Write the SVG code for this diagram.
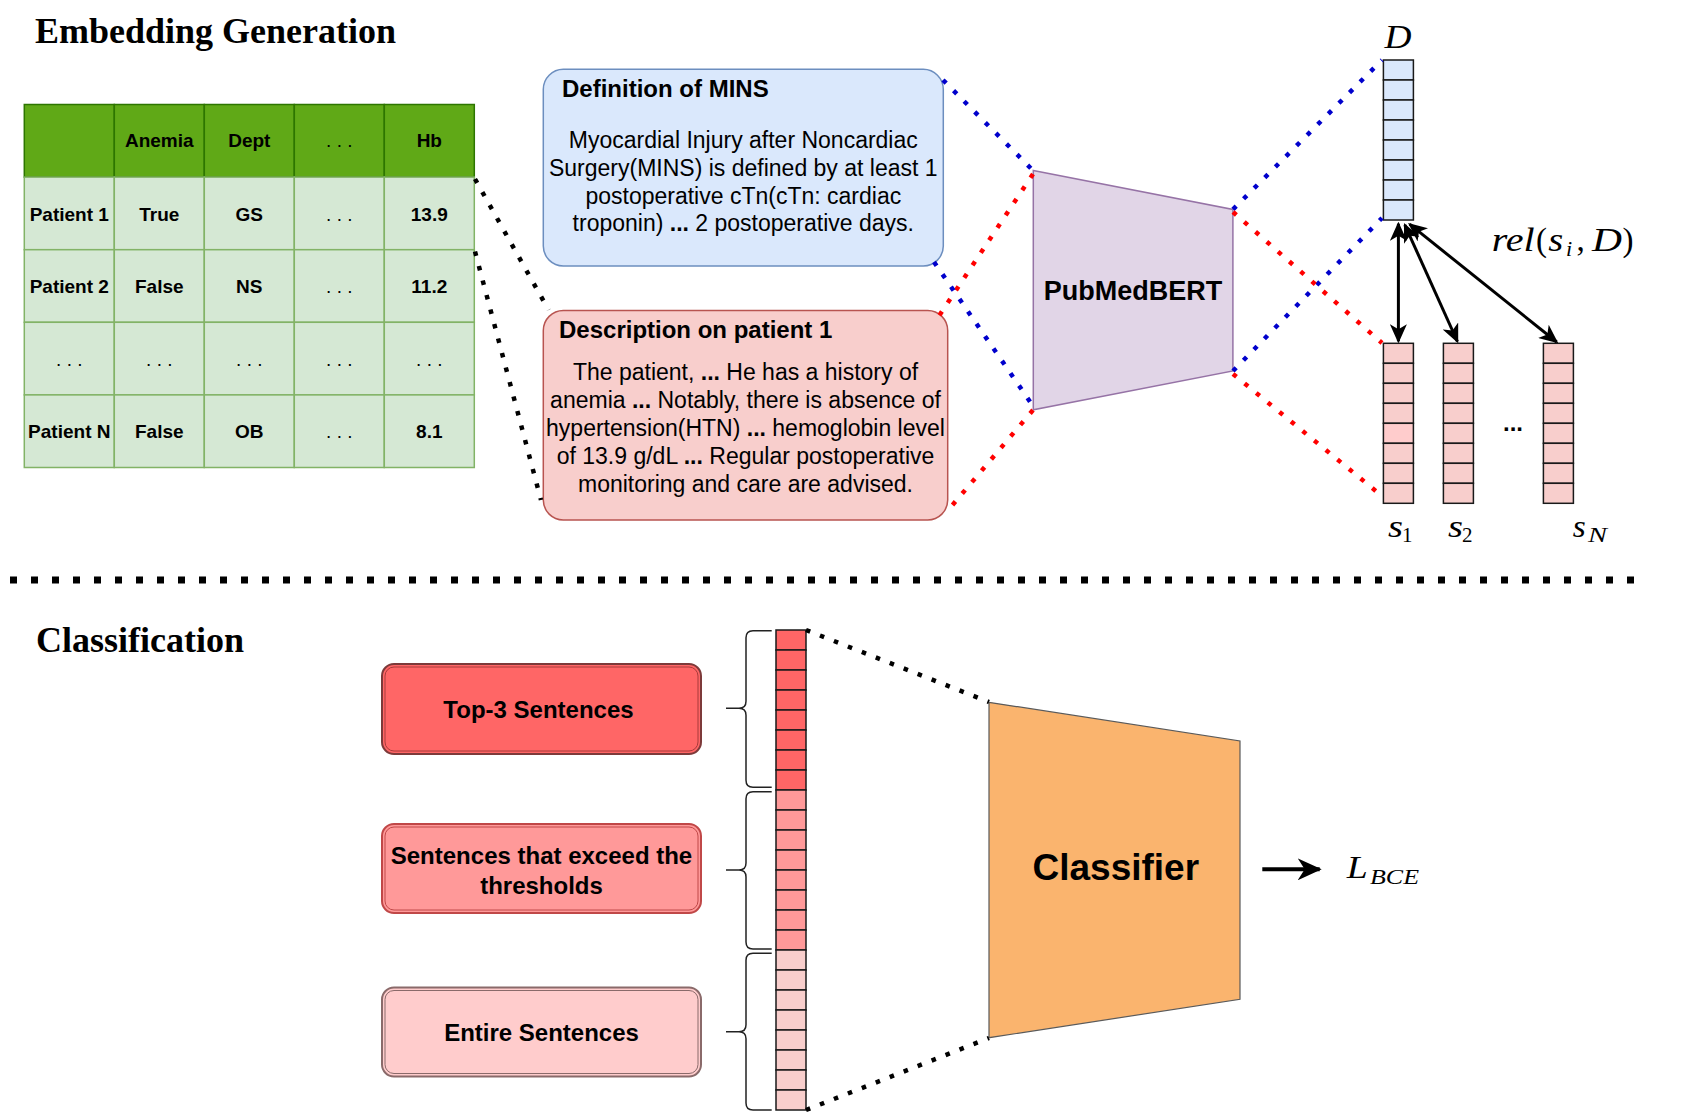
<svg xmlns="http://www.w3.org/2000/svg" width="1689" height="1115" viewBox="0 0 1689 1115">
<style>
.title{font-family:"Liberation Serif","Times New Roman",serif;font-weight:bold;font-size:36px;fill:#000}
.sans{font-family:"Liberation Sans",Arial,Helvetica,sans-serif;fill:#000}
.tb{font-family:"Liberation Sans",Arial,Helvetica,sans-serif;font-size:19px;font-weight:bold;text-anchor:middle;fill:#000}
.td{font-family:"Liberation Sans",Arial,Helvetica,sans-serif;font-size:19px;text-anchor:middle;fill:#000}
.hd{fill:#60a917;stroke:#2d7600;stroke-width:1.5}
.bd{fill:#d5e8d4;stroke:#82b366;stroke-width:1.5}
.body{font-family:"Liberation Sans",Arial,Helvetica,sans-serif;font-size:23px;text-anchor:middle;fill:#000}
.b{font-weight:bold}
.m{font-family:"Liberation Serif","Times New Roman",serif;font-style:italic;fill:#000}
.up{font-style:normal}
.vd{fill:#dae8fc;stroke:#1a1a1a;stroke-width:1.5}
.vs{fill:#f8cecc;stroke:#1a1a1a;stroke-width:1.5}
.dotk{fill:none;stroke:#000;stroke-width:4.5;stroke-dasharray:4.5 10.5}
.dotb{fill:none;stroke:#0000cc;stroke-width:4.5;stroke-dasharray:4.5 10.5}
.dotr{fill:none;stroke:#ff0000;stroke-width:4.5;stroke-dasharray:4.5 10.5}
.sep{fill:none;stroke:#000;stroke-width:7;stroke-dasharray:7 14}
.arr{fill:none;stroke:#000;stroke-width:3;marker-start:url(#ah);marker-end:url(#ah)}
.brace{fill:none;stroke:#222;stroke-width:1.5}
.lbl{font-family:"Liberation Sans",Arial,Helvetica,sans-serif;font-size:24px;font-weight:bold;text-anchor:middle;fill:#000}
</style>
<defs>
<marker id="ah" markerUnits="userSpaceOnUse" viewBox="0 0 19 17" markerWidth="19" markerHeight="17" refX="17" refY="8.5" orient="auto-start-reverse"><path d="M0,0 L19,8.5 L0,17 L5,8.5 Z" fill="#000"/></marker>
<marker id="ah2" markerUnits="userSpaceOnUse" viewBox="0 0 24 22" markerWidth="24" markerHeight="22" refX="22" refY="11" orient="auto"><path d="M0,0 L24,11 L0,22 L7,11 Z" fill="#000"/></marker>
</defs>
<rect width="1689" height="1115" fill="#fff"/>

<text class="title" x="35" y="43">Embedding Generation</text>
<text class="title" x="36" y="652">Classification</text>

<g id="table">
<rect class="hd" x="24.3" y="104.5" width="90" height="72.6"/>
<rect class="hd" x="114.3" y="104.5" width="90" height="72.6"/>
<rect class="hd" x="204.3" y="104.5" width="90" height="72.6"/>
<rect class="hd" x="294.3" y="104.5" width="90" height="72.6"/>
<rect class="hd" x="384.3" y="104.5" width="90" height="72.6"/>
<g class="bd">
<rect x="24.3" y="177.1" width="90" height="72.6"/><rect x="114.3" y="177.1" width="90" height="72.6"/><rect x="204.3" y="177.1" width="90" height="72.6"/><rect x="294.3" y="177.1" width="90" height="72.6"/><rect x="384.3" y="177.1" width="90" height="72.6"/>
<rect x="24.3" y="249.7" width="90" height="72.6"/><rect x="114.3" y="249.7" width="90" height="72.6"/><rect x="204.3" y="249.7" width="90" height="72.6"/><rect x="294.3" y="249.7" width="90" height="72.6"/><rect x="384.3" y="249.7" width="90" height="72.6"/>
<rect x="24.3" y="322.3" width="90" height="72.6"/><rect x="114.3" y="322.3" width="90" height="72.6"/><rect x="204.3" y="322.3" width="90" height="72.6"/><rect x="294.3" y="322.3" width="90" height="72.6"/><rect x="384.3" y="322.3" width="90" height="72.6"/>
<rect x="24.3" y="394.9" width="90" height="72.6"/><rect x="114.3" y="394.9" width="90" height="72.6"/><rect x="204.3" y="394.9" width="90" height="72.6"/><rect x="294.3" y="394.9" width="90" height="72.6"/><rect x="384.3" y="394.9" width="90" height="72.6"/>
</g>
<text class="tb" x="159.3" y="147">Anemia</text>
<text class="tb" x="249.3" y="147">Dept</text>
<text class="td" x="339.3" y="147">. . .</text>
<text class="tb" x="429.3" y="147">Hb</text>
<text class="tb" x="69.3" y="220.5">Patient 1</text>
<text class="tb" x="159.3" y="220.5">True</text>
<text class="tb" x="249.3" y="220.5">GS</text>
<text class="td" x="339.3" y="220.5">. . .</text>
<text class="tb" x="429.3" y="220.5">13.9</text>
<text class="tb" x="69.3" y="293">Patient 2</text>
<text class="tb" x="159.3" y="293">False</text>
<text class="tb" x="249.3" y="293">NS</text>
<text class="td" x="339.3" y="293">. . .</text>
<text class="tb" x="429.3" y="293">11.2</text>
<text class="td" x="69.3" y="365.6">. . .</text>
<text class="td" x="159.3" y="365.6">. . .</text>
<text class="td" x="249.3" y="365.6">. . .</text>
<text class="td" x="339.3" y="365.6">. . .</text>
<text class="td" x="429.3" y="365.6">. . .</text>
<text class="tb" x="69.3" y="438.2">Patient N</text>
<text class="tb" x="159.3" y="438.2">False</text>
<text class="tb" x="249.3" y="438.2">OB</text>
<text class="td" x="339.3" y="438.2">. . .</text>
<text class="tb" x="429.3" y="438.2">8.1</text>
</g>

<g id="definition">
<rect x="543.3" y="69.3" width="400" height="196.7" rx="20" fill="#dae8fc" stroke="#6c8ebf" stroke-width="1.5"/>
<text class="sans b" x="562" y="96.7" font-size="24">Definition of MINS</text>
<text class="body" x="743.3" y="148.3">Myocardial Injury after Noncardiac</text>
<text class="body" x="743.3" y="175.9">Surgery(MINS) is defined by at least 1</text>
<text class="body" x="743.3" y="203.5">postoperative cTn(cTn: cardiac</text>
<text class="body" x="743.3" y="231.1">troponin) <tspan class="b">...</tspan> 2 postoperative days.</text>
</g>

<g id="description">
<rect x="543.3" y="310.5" width="404.4" height="209.5" rx="20" fill="#f8cecc" stroke="#b85450" stroke-width="1.5"/>
<text class="sans b" x="559" y="338.3" font-size="24">Description on patient 1</text>
<text class="body" x="745.5" y="380">The patient, <tspan class="b">...</tspan> He has a history of</text>
<text class="body" x="745.5" y="408">anemia <tspan class="b">...</tspan> Notably, there is absence of</text>
<text class="body" x="745.5" y="436">hypertension(HTN) <tspan class="b">...</tspan> hemoglobin level</text>
<text class="body" x="745.5" y="464">of 13.9 g/dL <tspan class="b">...</tspan> Regular postoperative</text>
<text class="body" x="745.5" y="492">monitoring and care are advised.</text>
</g>

<g id="pubmedbert">
<polygon points="1033.3,170.5 1232.9,209.4 1232.9,370.9 1033.3,409.8" fill="#e1d5e7" stroke="#9673a6" stroke-width="1.5"/>
<text class="sans b" x="1133" y="299.6" font-size="27" text-anchor="middle">PubMedBERT</text>
</g>

<g id="vector-D">
<rect class="vd" x="1383.4" y="60" width="30" height="20"/>
<rect class="vd" x="1383.4" y="80" width="30" height="20"/>
<rect class="vd" x="1383.4" y="100" width="30" height="20"/>
<rect class="vd" x="1383.4" y="120" width="30" height="20"/>
<rect class="vd" x="1383.4" y="140" width="30" height="20"/>
<rect class="vd" x="1383.4" y="160" width="30" height="20"/>
<rect class="vd" x="1383.4" y="180" width="30" height="20"/>
<rect class="vd" x="1383.4" y="200" width="30" height="20"/>
<text class="m" x="1384.5" y="48" font-size="33" textLength="27" lengthAdjust="spacingAndGlyphs">D</text>
</g>

<g id="vector-s1">
<rect class="vs" x="1383.4" y="343.3" width="30" height="20"/>
<rect class="vs" x="1383.4" y="363.3" width="30" height="20"/>
<rect class="vs" x="1383.4" y="383.3" width="30" height="20"/>
<rect class="vs" x="1383.4" y="403.3" width="30" height="20"/>
<rect class="vs" x="1383.4" y="423.3" width="30" height="20" style="fill:#ffcccc"/>
<rect class="vs" x="1383.4" y="443.3" width="30" height="20"/>
<rect class="vs" x="1383.4" y="463.3" width="30" height="20"/>
<rect class="vs" x="1383.4" y="483.3" width="30" height="20"/>
<text class="m" x="1388" y="536.7" font-size="31" textLength="15" lengthAdjust="spacingAndGlyphs">s</text>
<text class="m up" x="1402" y="542" font-size="21">1</text>
</g>

<g id="vector-s2">
<rect class="vs" x="1443.4" y="343.3" width="30" height="20"/>
<rect class="vs" x="1443.4" y="363.3" width="30" height="20"/>
<rect class="vs" x="1443.4" y="383.3" width="30" height="20"/>
<rect class="vs" x="1443.4" y="403.3" width="30" height="20"/>
<rect class="vs" x="1443.4" y="423.3" width="30" height="20"/>
<rect class="vs" x="1443.4" y="443.3" width="30" height="20"/>
<rect class="vs" x="1443.4" y="463.3" width="30" height="20"/>
<rect class="vs" x="1443.4" y="483.3" width="30" height="20"/>
<text class="m" x="1448" y="536.7" font-size="31" textLength="15" lengthAdjust="spacingAndGlyphs">s</text>
<text class="m up" x="1462" y="542" font-size="21">2</text>
</g>

<text class="sans b" x="1513" y="431" font-size="24" text-anchor="middle">...</text>

<g id="vector-sN">
<rect class="vs" x="1543.4" y="343.3" width="30" height="20"/>
<rect class="vs" x="1543.4" y="363.3" width="30" height="20"/>
<rect class="vs" x="1543.4" y="383.3" width="30" height="20"/>
<rect class="vs" x="1543.4" y="403.3" width="30" height="20"/>
<rect class="vs" x="1543.4" y="423.3" width="30" height="20"/>
<rect class="vs" x="1543.4" y="443.3" width="30" height="20"/>
<rect class="vs" x="1543.4" y="463.3" width="30" height="20"/>
<rect class="vs" x="1543.4" y="483.3" width="30" height="20"/>
<text class="m" x="1572.7" y="536.7" font-size="31" textLength="13" lengthAdjust="spacingAndGlyphs">s</text>
<text class="m" x="1588" y="542" font-size="22" textLength="19" lengthAdjust="spacingAndGlyphs">N</text>
</g>

<g id="rel-label">
<text class="m" x="1491.7" y="250.7" font-size="33" textLength="43" lengthAdjust="spacingAndGlyphs">rel</text>
<text class="m up" x="1536" y="250.7" font-size="33">(</text>
<text class="m" x="1548.3" y="250.7" font-size="33" textLength="15" lengthAdjust="spacingAndGlyphs">s</text>
<text class="m" x="1566" y="256" font-size="22">i</text>
<text class="m up" x="1576.5" y="250.7" font-size="33">,</text>
<text class="m" x="1592" y="250.7" font-size="33" textLength="30" lengthAdjust="spacingAndGlyphs">D</text>
<text class="m up" x="1622.5" y="250.7" font-size="33">)</text>
</g>

<line class="sep" x1="10" y1="580" x2="1636" y2="580"/>

<g id="top3">
<rect x="382" y="664" width="319" height="90" rx="12" fill="#ff6666" stroke="#7d3a3a" stroke-width="2"/>
<rect x="385" y="667" width="313" height="84" rx="9" fill="none" stroke="#a83a3a" stroke-width="1"/>
<text class="lbl" x="538.5" y="717.5">Top-3 Sentences</text>
</g>

<g id="threshold">
<rect x="382" y="824" width="319" height="89" rx="12" fill="#ff9999" stroke="#c04848" stroke-width="2"/>
<rect x="385" y="827" width="313" height="83" rx="9" fill="none" stroke="#c04848" stroke-width="1"/>
<text class="lbl" x="541.5" y="864.4">Sentences that exceed the</text>
<text class="lbl" x="541.5" y="893.8">thresholds</text>
</g>

<g id="entire">
<rect x="382" y="987.5" width="319" height="89" rx="12" fill="#ffcccc" stroke="#8a6a6a" stroke-width="2"/>
<rect x="385" y="990.5" width="313" height="83" rx="9" fill="none" stroke="#8a6a6a" stroke-width="1"/>
<text class="lbl" x="541.5" y="1041.4">Entire Sentences</text>
</g>

<g id="braces">
<path class="brace" d="M771.7,630.7 H753 Q746,630.7 746,637.7 V701.3 Q746,708.3 739,708.3 H726 M739,708.3 Q746,708.3 746,715.3 V780.3 Q746,787.3 753,787.3 H771.7"/>
<path class="brace" d="M771.7,791.7 H753 Q746,791.7 746,798.7 V863 Q746,870 739,870 H726 M739,870 Q746,870 746,877 V942 Q746,949 753,949 H771.7"/>
<path class="brace" d="M771.7,953.3 H753 Q746,953.3 746,960.3 V1024.7 Q746,1031.7 739,1031.7 H726 M739,1031.7 Q746,1031.7 746,1038.7 V1103 Q746,1110 753,1110 H771.7"/>
</g>

<g id="sentence-vector">
<g class="vs" style="fill:#ff6666">
<rect x="776" y="630" width="30" height="20"/><rect x="776" y="650" width="30" height="20"/><rect x="776" y="670" width="30" height="20"/><rect x="776" y="690" width="30" height="20"/><rect x="776" y="710" width="30" height="20"/><rect x="776" y="730" width="30" height="20"/><rect x="776" y="750" width="30" height="20"/><rect x="776" y="770" width="30" height="20"/>
</g>
<g class="vs" style="fill:#ff9999">
<rect x="776" y="790" width="30" height="20"/><rect x="776" y="810" width="30" height="20"/><rect x="776" y="830" width="30" height="20"/><rect x="776" y="850" width="30" height="20"/><rect x="776" y="870" width="30" height="20"/><rect x="776" y="890" width="30" height="20"/><rect x="776" y="910" width="30" height="20"/><rect x="776" y="930" width="30" height="20"/>
</g>
<g class="vs">
<rect x="776" y="950" width="30" height="20"/><rect x="776" y="970" width="30" height="20"/><rect x="776" y="990" width="30" height="20"/><rect x="776" y="1010" width="30" height="20"/><rect x="776" y="1030" width="30" height="20"/><rect x="776" y="1050" width="30" height="20"/><rect x="776" y="1070" width="30" height="20"/><rect x="776" y="1090" width="30" height="20"/>
</g>
</g>

<g id="classifier">
<polygon points="989,702.3 1240,741 1240,999.3 989,1037.7" fill="#fab46e" stroke="#5a5a5a" stroke-width="1.2"/>
<text class="sans b" x="1115.8" y="880" font-size="37" text-anchor="middle">Classifier</text>
</g>

<g id="loss">
<text class="m" x="1346.7" y="878.3" font-size="31" textLength="21" lengthAdjust="spacingAndGlyphs">L</text>
<text class="m" x="1370" y="884" font-size="22" textLength="49" lengthAdjust="spacingAndGlyphs">BCE</text>
</g>

<g id="connectors">
<line class="dotk" x1="475" y1="179" x2="548.6" y2="310"/>
<line class="dotk" x1="475" y1="251.5" x2="541" y2="500"/>
<line class="dotb" x1="943" y1="80" x2="1033" y2="170.5"/>
<line class="dotr" x1="1033" y1="174" x2="939" y2="316"/>
<line class="dotb" x1="934" y1="262" x2="1033" y2="406"/>
<line class="dotr" x1="1033" y1="410" x2="950" y2="508"/>
<line class="dotb" x1="1233" y1="209.4" x2="1382" y2="60"/>
<line class="dotb" x1="1233" y1="371" x2="1382" y2="218"/>
<line class="dotr" x1="1233" y1="212" x2="1382" y2="343"/>
<line class="dotr" x1="1233" y1="374" x2="1382" y2="496"/>
<line class="arr" x1="1398.4" y1="223.7" x2="1398.4" y2="341.3"/>
<line class="arr" x1="1404.8" y1="224.8" x2="1457.4" y2="341.5"/>
<line class="arr" x1="1409.6" y1="224.2" x2="1556.7" y2="342"/>
<line class="dotk" x1="806" y1="630" x2="989" y2="702"/>
<line class="dotk" x1="806" y1="1110" x2="989" y2="1038"/>
<line x1="1262.3" y1="869.3" x2="1319.7" y2="869.3" stroke="#000" stroke-width="4" marker-end="url(#ah2)"/>
</g>
</svg>
